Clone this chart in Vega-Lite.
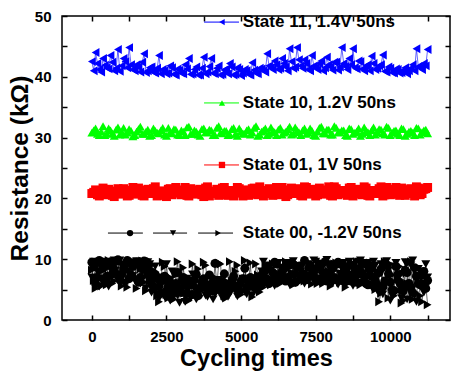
{
"$schema": "https://vega.github.io/schema/vega-lite/v6.json",
"width": 388, "height": 304, "autosize": "none",
"padding": {"left": 62, "top": 16, "right": 1, "bottom": 51},
"background": "white",
"config": {
  "view": {"stroke": "black", "strokeWidth": 1.5},
  "axis": {"domain": false, "grid": false, "zindex": 1, "labelFont": "Liberation Sans", "labelFontWeight": "bold", "labelFontSize": 15, "labelColor": "black",
    "titleFont": "Liberation Sans", "titleFontWeight": "bold", "titleFontSize": 23.5, "titleColor": "black", "tickColor": "#000000", "tickOpacity": 1, "tickWidth": 1.5, "tickSize": -5, "format": "d"}
},
"datasets": {
"pts": [
{"c":0,"a":42.5,"b":30.8,"r":20.8,"k1":9.5,"k2":7.0,"k3":8.2},
{"c":125,"a":44.0,"b":31.5,"r":21.4,"k1":6.0,"k2":9.2,"k3":5.2},
{"c":250,"a":41.2,"b":30.4,"r":20.4,"k1":9.8,"k2":5.5,"k3":7.8},
{"c":375,"a":43.0,"b":31.9,"r":21.7,"k1":8.5,"k2":9.6,"k3":9.2},
{"c":500,"a":41.5,"b":30.6,"r":20.6,"k1":7.2,"k2":6.2,"k3":5.8},
{"c":625,"a":43.5,"b":31.2,"r":21.2,"k1":9.6,"k2":8.4,"k3":7.0},
{"c":750,"a":41.0,"b":30.3,"r":20.3,"k1":8.0,"k2":9.8,"k3":6.4},
{"c":875,"a":44.5,"b":31.7,"r":21.6,"k1":9.9,"k2":6.5,"k3":9.4},
{"c":1000,"a":41.8,"b":30.9,"r":20.9,"k1":7.5,"k2":9.0,"k3":5.6},
{"c":1125,"a":42.5,"b":30.5,"r":21.3,"k1":9.2,"k2":5.8,"k3":8.0},
{"c":1250,"a":44.8,"b":31.4,"r":20.5,"k1":6.8,"k2":9.4,"k3":6.6},
{"c":1375,"a":41.2,"b":30.2,"r":21.8,"k1":8.8,"k2":7.2,"k3":9.6},
{"c":1500,"a":42.0,"b":31.0,"r":20.7,"k1":9.5,"k2":9.7,"k3":5.2},
{"c":1625,"a":40.8,"b":31.8,"r":21.1,"k1":7.0,"k2":6.0,"k3":8.4},
{"c":1750,"a":43.8,"b":30.6,"r":20.4,"k1":9.7,"k2":8.5,"k3":6.2},
{"c":1875,"a":41.0,"b":31.3,"r":21.5,"k1":8.2,"k2":9.5,"k3":7.4},
{"c":2000,"a":41.6,"b":30.4,"r":20.8,"k1":6.0,"k2":4.5,"k3":9.0},
{"c":2125,"a":40.6,"b":31.1,"r":21.9,"k1":7.5,"k2":8.8,"k3":5.0},
{"c":2250,"a":43.5,"b":30.7,"r":20.5,"k1":5.5,"k2":3.5,"k3":3.0},
{"c":2375,"a":41.2,"b":31.6,"r":21.2,"k1":6.5,"k2":6.8,"k3":9.5},
{"c":2500,"a":40.5,"b":30.3,"r":20.3,"k1":4.8,"k2":9.2,"k3":4.2},
{"c":2625,"a":41.8,"b":30.9,"r":21.6,"k1":6.2,"k2":3.2,"k3":7.0},
{"c":2750,"a":40.4,"b":31.4,"r":20.9,"k1":5.0,"k2":5.5,"k3":3.4},
{"c":2875,"a":41.3,"b":30.5,"r":21.4,"k1":7.8,"k2":4.0,"k3":9.6},
{"c":3000,"a":40.6,"b":31.2,"r":20.6,"k1":4.5,"k2":6.2,"k3":5.0},
{"c":3125,"a":42.0,"b":30.4,"r":21.8,"k1":5.8,"k2":3.0,"k3":6.2},
{"c":3250,"a":43.0,"b":31.8,"r":20.4,"k1":6.5,"k2":5.2,"k3":3.2},
{"c":3375,"a":40.5,"b":30.6,"r":21.1,"k1":4.2,"k2":7.5,"k3":9.2},
{"c":3500,"a":41.6,"b":31.0,"r":20.7,"k1":7.5,"k2":3.4,"k3":5.6},
{"c":3625,"a":40.3,"b":30.3,"r":21.5,"k1":5.2,"k2":4.8,"k3":4.0},
{"c":3750,"a":43.2,"b":31.5,"r":20.3,"k1":6.8,"k2":6.0,"k3":9.5},
{"c":3875,"a":40.8,"b":30.8,"r":21.9,"k1":4.6,"k2":3.8,"k3":6.0},
{"c":4000,"a":43.0,"b":31.2,"r":20.8,"k1":5.9,"k2":5.4,"k3":4.4},
{"c":4125,"a":40.5,"b":30.4,"r":21.2,"k1":9.3,"k2":4.2,"k3":7.0},
{"c":4250,"a":41.8,"b":31.9,"r":20.5,"k1":5.0,"k2":6.6,"k3":9.4},
{"c":4375,"a":40.4,"b":30.7,"r":21.7,"k1":6.3,"k2":3.6,"k3":4.8},
{"c":4500,"a":41.3,"b":31.1,"r":20.6,"k1":4.7,"k2":5.0,"k3":3.6},
{"c":4625,"a":42.2,"b":30.5,"r":21.3,"k1":5.8,"k2":4.4,"k3":9.6},
{"c":4750,"a":40.3,"b":31.6,"r":20.4,"k1":7.2,"k2":6.2,"k3":5.0},
{"c":4875,"a":41.5,"b":30.3,"r":21.8,"k1":5.1,"k2":3.9,"k3":9.0},
{"c":5000,"a":40.2,"b":31.0,"r":20.9,"k1":6.4,"k2":5.6,"k3":4.2},
{"c":5125,"a":41.2,"b":30.6,"r":21.1,"k1":8.5,"k2":4.6,"k3":9.8},
{"c":5250,"a":40.4,"b":31.4,"r":20.5,"k1":5.5,"k2":6.4,"k3":6.0},
{"c":5375,"a":42.3,"b":30.8,"r":21.6,"k1":6.8,"k2":4.0,"k3":3.8},
{"c":5500,"a":40.6,"b":31.9,"r":20.7,"k1":5.2,"k2":5.8,"k3":9.2},
{"c":5625,"a":41.4,"b":30.5,"r":21.9,"k1":7.0,"k2":6.6,"k3":4.6},
{"c":5750,"a":41.0,"b":31.2,"r":20.4,"k1":6.2,"k2":9.6,"k3":5.4},
{"c":5875,"a":43.8,"b":30.4,"r":21.3,"k1":8.8,"k2":6.0,"k3":7.2},
{"c":6000,"a":41.5,"b":31.7,"r":20.8,"k1":6.5,"k2":8.2,"k3":5.8},
{"c":6125,"a":42.6,"b":30.9,"r":21.5,"k1":9.5,"k2":5.6,"k3":8.0},
{"c":6250,"a":41.2,"b":31.3,"r":20.6,"k1":7.2,"k2":9.4,"k3":6.2},
{"c":6375,"a":43.0,"b":30.5,"r":21.8,"k1":8.0,"k2":6.8,"k3":7.6},
{"c":6500,"a":41.6,"b":31.0,"r":20.3,"k1":6.4,"k2":8.6,"k3":9.6},
{"c":6625,"a":44.6,"b":31.8,"r":21.2,"k1":9.0,"k2":5.8,"k3":6.6},
{"c":6750,"a":41.4,"b":30.6,"r":20.9,"k1":7.5,"k2":9.7,"k3":5.8},
{"c":6875,"a":44.8,"b":31.2,"r":21.6,"k1":8.6,"k2":6.4,"k3":9.2},
{"c":7000,"a":41.8,"b":30.4,"r":20.5,"k1":6.8,"k2":8.0,"k3":7.0},
{"c":7125,"a":42.8,"b":31.5,"r":21.9,"k1":9.8,"k2":6.0,"k3":6.4},
{"c":7250,"a":41.2,"b":30.8,"r":20.7,"k1":7.3,"k2":9.2,"k3":8.4},
{"c":7375,"a":43.5,"b":31.1,"r":21.1,"k1":8.5,"k2":7.0,"k3":5.9},
{"c":7500,"a":41.5,"b":30.3,"r":20.4,"k1":6.6,"k2":9.6,"k3":7.8},
{"c":7625,"a":42.2,"b":31.6,"r":21.7,"k1":9.2,"k2":6.2,"k3":9.0},
{"c":7750,"a":41.0,"b":30.7,"r":20.8,"k1":7.8,"k2":8.8,"k3":6.0},
{"c":7875,"a":43.2,"b":31.3,"r":21.4,"k1":6.4,"k2":9.9,"k3":7.4},
{"c":8000,"a":41.6,"b":30.5,"r":20.5,"k1":8.9,"k2":6.6,"k3":5.6},
{"c":8125,"a":42.4,"b":31.9,"r":21.9,"k1":7.0,"k2":8.4,"k3":9.2},
{"c":8250,"a":41.1,"b":30.8,"r":20.6,"k1":9.5,"k2":5.8,"k3":6.8},
{"c":8375,"a":44.8,"b":31.2,"r":21.2,"k1":6.5,"k2":9.4,"k3":7.6},
{"c":8500,"a":41.7,"b":30.4,"r":20.9,"k1":8.2,"k2":6.8,"k3":5.4},
{"c":8625,"a":43.0,"b":31.5,"r":21.7,"k1":7.4,"k2":9.6,"k3":8.6},
{"c":8750,"a":44.6,"b":30.6,"r":20.4,"k1":9.0,"k2":5.6,"k3":6.6},
{"c":8875,"a":41.3,"b":31.0,"r":21.5,"k1":6.2,"k2":8.5,"k3":9.6},
{"c":9000,"a":42.5,"b":30.3,"r":20.7,"k1":8.0,"k2":9.8,"k3":5.8},
{"c":9125,"a":41.0,"b":31.7,"r":21.9,"k1":7.2,"k2":6.0,"k3":8.0},
{"c":9250,"a":42.0,"b":30.9,"r":20.5,"k1":5.8,"k2":9.4,"k3":7.0},
{"c":9375,"a":43.4,"b":31.2,"r":21.3,"k1":8.6,"k2":5.4,"k3":9.0},
{"c":9500,"a":41.2,"b":30.5,"r":20.8,"k1":6.5,"k2":9.0,"k3":5.0},
{"c":9625,"a":41.8,"b":31.4,"r":21.6,"k1":7.8,"k2":7.5,"k3":3.0},
{"c":9750,"a":43.6,"b":30.7,"r":20.4,"k1":5.4,"k2":4.2,"k3":8.6},
{"c":9875,"a":40.8,"b":31.8,"r":21.8,"k1":9.0,"k2":9.7,"k3":6.4},
{"c":10000,"a":41.4,"b":30.4,"r":20.6,"k1":6.2,"k2":3.2,"k3":9.2},
{"c":10125,"a":40.6,"b":31.1,"r":21.2,"k1":4.8,"k2":8.8,"k3":4.0},
{"c":10250,"a":41.2,"b":30.6,"r":20.9,"k1":7.5,"k2":6.0,"k3":6.8},
{"c":10375,"a":40.7,"b":31.5,"r":21.7,"k1":5.6,"k2":3.6,"k3":2.8},
{"c":10500,"a":41.5,"b":30.3,"r":20.5,"k1":8.2,"k2":9.5,"k3":5.2},
{"c":10625,"a":41.0,"b":31.0,"r":21.4,"k1":6.0,"k2":5.0,"k3":9.4},
{"c":10750,"a":42.0,"b":30.8,"r":20.8,"k1":4.5,"k2":9.8,"k3":3.4},
{"c":10875,"a":44.6,"b":31.6,"r":21.9,"k1":7.2,"k2":3.0,"k3":7.6},
{"c":11000,"a":41.5,"b":30.5,"r":20.6,"k1":5.8,"k2":8.0,"k3":4.0},
{"c":11125,"a":42.2,"b":31.2,"r":21.5,"k1":8.0,"k2":4.5,"k3":6.2},
{"c":11250,"a":44.5,"b":30.7,"r":21.8,"k1":6.5,"k2":7.0,"k3":2.5},
{"c":63,"a":41.0,"b":31.2,"r":21.0,"k1":8.8,"k2":9.6,"k3":6.5},
{"c":188,"a":42.2,"b":30.6,"r":20.6,"k1":7.0,"k2":8.0,"k3":9.0},
{"c":313,"a":40.8,"b":31.0,"r":21.3,"k1":9.4,"k2":6.8,"k3":5.6},
{"c":438,"a":41.9,"b":30.4,"r":20.8,"k1":6.4,"k2":9.0,"k3":8.4},
{"c":563,"a":41.3,"b":31.5,"r":21.5,"k1":9.0,"k2":5.5,"k3":9.8},
{"c":688,"a":42.4,"b":30.7,"r":20.5,"k1":7.6,"k2":9.3,"k3":6.0},
{"c":813,"a":41.4,"b":31.3,"r":21.1,"k1":9.7,"k2":7.5,"k3":8.6},
{"c":938,"a":40.9,"b":30.5,"r":20.7,"k1":6.6,"k2":9.8,"k3":7.2},
{"c":1063,"a":43.0,"b":31.6,"r":21.6,"k1":8.4,"k2":6.2,"k3":9.3},
{"c":1188,"a":41.5,"b":30.8,"r":20.4,"k1":9.8,"k2":8.0,"k3":5.4},
{"c":1313,"a":42.0,"b":31.1,"r":21.2,"k1":7.4,"k2":9.5,"k3":7.8},
{"c":1438,"a":41.0,"b":30.4,"r":20.9,"k1":9.3,"k2":6.5,"k3":9.1},
{"c":1563,"a":41.6,"b":31.4,"r":21.7,"k1":6.2,"k2":9.0,"k3":6.8},
{"c":1688,"a":42.4,"b":30.6,"r":20.5,"k1":8.6,"k2":7.8,"k3":9.7},
{"c":1813,"a":40.7,"b":31.0,"r":21.3,"k1":9.6,"k2":5.2,"k3":4.8},
{"c":1938,"a":41.5,"b":30.3,"r":20.8,"k1":7.2,"k2":9.2,"k3":6.4},
{"c":2063,"a":40.8,"b":31.5,"r":21.6,"k1":5.4,"k2":6.4,"k3":8.2},
{"c":2188,"a":41.4,"b":30.8,"r":20.4,"k1":6.8,"k2":4.2,"k3":4.0},
{"c":2313,"a":40.5,"b":31.2,"r":21.2,"k1":4.4,"k2":7.0,"k3":6.6},
{"c":2438,"a":41.0,"b":30.5,"r":20.7,"k1":7.2,"k2":3.8,"k3":8.8},
{"c":2563,"a":40.6,"b":31.6,"r":21.5,"k1":5.6,"k2":6.0,"k3":3.6},
{"c":2688,"a":41.5,"b":30.7,"r":20.6,"k1":4.2,"k2":8.0,"k3":5.8},
{"c":2813,"a":40.3,"b":31.3,"r":21.8,"k1":6.0,"k2":4.6,"k3":7.4},
{"c":2938,"a":41.1,"b":30.4,"r":20.9,"k1":5.2,"k2":2.8,"k3":4.4},
{"c":3063,"a":40.5,"b":31.0,"r":21.3,"k1":7.0,"k2":5.6,"k3":8.6},
{"c":3188,"a":41.3,"b":31.7,"r":20.5,"k1":4.4,"k2":6.8,"k3":3.4},
{"c":3313,"a":40.4,"b":30.6,"r":21.6,"k1":5.8,"k2":3.6,"k3":6.4},
{"c":3438,"a":41.2,"b":31.2,"r":20.8,"k1":6.6,"k2":5.2,"k3":4.2},
{"c":3563,"a":40.3,"b":30.5,"r":21.4,"k1":4.0,"k2":4.4,"k3":8.4},
{"c":3688,"a":41.4,"b":31.4,"r":20.6,"k1":6.2,"k2":6.6,"k3":5.2},
{"c":3813,"a":40.5,"b":30.9,"r":21.7,"k1":5.4,"k2":4.0,"k3":9.0},
{"c":3938,"a":41.7,"b":31.3,"r":20.4,"k1":7.4,"k2":5.8,"k3":4.6},
{"c":4063,"a":40.6,"b":30.4,"r":21.0,"k1":4.8,"k2":3.4,"k3":6.8},
{"c":4188,"a":41.4,"b":31.6,"r":21.5,"k1":6.0,"k2":6.0,"k3":5.4},
{"c":4313,"a":40.3,"b":30.8,"r":20.7,"k1":5.2,"k2":4.6,"k3":9.2},
{"c":4438,"a":41.1,"b":31.1,"r":21.8,"k1":7.6,"k2":5.4,"k3":4.0},
{"c":4563,"a":40.5,"b":30.4,"r":20.5,"k1":4.6,"k2":3.8,"k3":6.2},
{"c":4688,"a":41.6,"b":31.4,"r":21.2,"k1":6.4,"k2":6.4,"k3":5.0},
{"c":4813,"a":40.4,"b":30.6,"r":20.9,"k1":5.6,"k2":4.8,"k3":8.0},
{"c":4938,"a":41.2,"b":31.5,"r":21.6,"k1":4.8,"k2":5.2,"k3":4.4},
{"c":5063,"a":40.6,"b":30.7,"r":20.4,"k1":6.8,"k2":6.8,"k3":6.6},
{"c":5188,"a":41.0,"b":31.2,"r":21.4,"k1":5.4,"k2":4.2,"k3":5.2},
{"c":5313,"a":40.3,"b":30.5,"r":20.8,"k1":7.0,"k2":5.8,"k3":9.4},
{"c":5438,"a":41.1,"b":31.6,"r":21.7,"k1":5.8,"k2":4.8,"k3":5.6},
{"c":5563,"a":40.5,"b":30.3,"r":20.6,"k1":6.6,"k2":6.2,"k3":7.4},
{"c":5688,"a":41.3,"b":31.0,"r":21.3,"k1":7.4,"k2":8.0,"k3":6.0},
{"c":5813,"a":40.8,"b":31.5,"r":20.9,"k1":8.2,"k2":6.4,"k3":8.8},
{"c":5938,"a":41.8,"b":30.6,"r":21.6,"k1":6.0,"k2":9.0,"k3":6.6},
{"c":6063,"a":41.2,"b":31.1,"r":20.5,"k1":7.8,"k2":7.2,"k3":9.2},
{"c":6188,"a":42.0,"b":30.4,"r":21.8,"k1":9.2,"k2":6.0,"k3":7.0},
{"c":6313,"a":41.4,"b":31.6,"r":20.7,"k1":6.8,"k2":8.6,"k3":6.0},
{"c":6438,"a":42.2,"b":30.8,"r":21.4,"k1":8.4,"k2":7.0,"k3":8.2},
{"c":6563,"a":41.0,"b":31.3,"r":20.6,"k1":7.0,"k2":9.4,"k3":6.4},
{"c":6688,"a":42.5,"b":30.5,"r":21.7,"k1":9.4,"k2":6.2,"k3":7.8},
{"c":6813,"a":41.6,"b":31.7,"r":20.8,"k1":6.2,"k2":8.8,"k3":9.4},
{"c":6938,"a":42.8,"b":30.9,"r":21.3,"k1":8.8,"k2":7.4,"k3":6.2},
{"c":7063,"a":41.4,"b":31.2,"r":20.4,"k1":7.6,"k2":9.0,"k3":8.0},
{"c":7188,"a":42.2,"b":30.6,"r":21.8,"k1":6.6,"k2":6.6,"k3":9.6},
{"c":7313,"a":41.0,"b":31.5,"r":20.9,"k1":9.0,"k2":8.2,"k3":6.8},
{"c":7438,"a":41.8,"b":30.4,"r":21.5,"k1":7.2,"k2":9.8,"k3":7.6},
{"c":7563,"a":41.2,"b":31.0,"r":20.6,"k1":8.6,"k2":6.8,"k3":6.0},
{"c":7688,"a":42.6,"b":31.8,"r":21.2,"k1":6.8,"k2":8.4,"k3":9.2},
{"c":7813,"a":41.5,"b":30.7,"r":20.7,"k1":9.6,"k2":7.2,"k3":6.6},
{"c":7938,"a":42.0,"b":31.3,"r":21.9,"k1":7.4,"k2":9.2,"k3":8.0},
{"c":8063,"a":41.1,"b":30.5,"r":20.4,"k1":8.4,"k2":6.0,"k3":7.2},
{"c":8188,"a":42.4,"b":31.6,"r":21.6,"k1":6.6,"k2":8.8,"k3":9.4},
{"c":8313,"a":41.6,"b":30.9,"r":20.8,"k1":9.2,"k2":7.6,"k3":6.2},
{"c":8438,"a":42.2,"b":31.2,"r":21.3,"k1":7.0,"k2":9.4,"k3":8.4},
{"c":8563,"a":41.2,"b":30.3,"r":20.5,"k1":8.8,"k2":6.4,"k3":6.0},
{"c":8688,"a":42.0,"b":31.4,"r":21.8,"k1":6.4,"k2":9.0,"k3":9.0},
{"c":8813,"a":41.5,"b":30.8,"r":20.9,"k1":8.0,"k2":7.4,"k3":7.0},
{"c":8938,"a":42.6,"b":31.5,"r":21.4,"k1":7.6,"k2":9.6,"k3":6.4},
{"c":9063,"a":41.3,"b":30.6,"r":20.6,"k1":9.4,"k2":6.2,"k3":8.8},
{"c":9188,"a":41.8,"b":31.1,"r":21.7,"k1":6.0,"k2":8.6,"k3":7.4},
{"c":9313,"a":41.0,"b":30.4,"r":20.4,"k1":8.2,"k2":7.0,"k3":9.4},
{"c":9438,"a":42.2,"b":31.7,"r":21.2,"k1":7.0,"k2":9.6,"k3":5.8},
{"c":9563,"a":41.4,"b":30.9,"r":20.8,"k1":5.8,"k2":4.8,"k3":8.0},
{"c":9688,"a":42.0,"b":31.3,"r":21.9,"k1":8.4,"k2":9.2,"k3":4.4},
{"c":9813,"a":40.9,"b":30.5,"r":20.6,"k1":6.4,"k2":5.6,"k3":9.6},
{"c":9938,"a":41.6,"b":31.6,"r":21.5,"k1":7.6,"k2":8.2,"k3":3.6},
{"c":10063,"a":40.7,"b":30.8,"r":20.7,"k1":5.0,"k2":4.0,"k3":7.4},
{"c":10188,"a":41.3,"b":31.2,"r":21.8,"k1":8.8,"k2":9.4,"k3":5.0},
{"c":10313,"a":40.6,"b":30.4,"r":20.5,"k1":6.2,"k2":4.6,"k3":8.8},
{"c":10438,"a":41.1,"b":31.4,"r":21.4,"k1":4.8,"k2":7.6,"k3":3.2},
{"c":10563,"a":40.5,"b":30.6,"r":20.9,"k1":7.8,"k2":3.4,"k3":6.0},
{"c":10688,"a":41.4,"b":31.1,"r":21.6,"k1":5.4,"k2":9.0,"k3":9.6},
{"c":10813,"a":41.0,"b":30.4,"r":20.4,"k1":8.6,"k2":4.0,"k3":4.6},
{"c":10938,"a":41.7,"b":31.5,"r":21.7,"k1":6.0,"k2":8.4,"k3":7.0},
{"c":11063,"a":41.2,"b":30.9,"r":20.8,"k1":7.4,"k2":5.4,"k3":3.0},
{"c":11188,"a":41.8,"b":31.3,"r":21.6,"k1":5.2,"k2":9.2,"k3":5.8}
],
"leg": [
{"s":"a","x1":3760,"x2":4930,"xm":4360,"y":49.0},
{"s":"b","x1":3760,"x2":4930,"xm":4360,"y":35.7},
{"s":"r","x1":3760,"x2":4930,"xm":4360,"y":25.5},
{"s":"k1","x1":540,"x2":1710,"xm":1280,"y":14.3},
{"s":"k2","x1":2050,"x2":3190,"xm":2720,"y":14.3},
{"s":"k3","x1":3560,"x2":4730,"xm":4230,"y":14.3}
],
"lab": [
{"t":"State 11, 1.4V 50ns","x":5060,"y":49.0},
{"t":"State 10, 1.2V 50ns","x":5060,"y":35.7},
{"t":"State 01, 1V 50ns","x":5060,"y":25.5},
{"t":"State 00, -1.2V 50ns","x":5060,"y":14.3}
]
},
"layer": [
{
  "data": {"name": "pts"},
  "transform": [{"fold": ["a","b","r","k1","k2","k3"], "as": ["s","v"]}],
  "mark": {"type": "line", "strokeWidth": 0.6},
  "encoding": {
    "x": {"field": "c", "type": "quantitative", "scale": {"domain": [-1000, 12000], "nice": false, "zero": false},
      "axis": {"orient": "bottom", "title": "Cycling times", "values": [0,1250,2500,3750,5000,6250,7500,8750,10000,11250],
        "labelExpr": "datum.value % 2500 === 0 ? datum.label : ''",
        "labelPadding": 14, "titlePadding": 2}},
    "y": {"field": "v", "type": "quantitative", "scale": {"domain": [0, 50], "nice": false},
      "axis": {"orient": "left", "title": "Resistance (kΩ)", "titleFontSize": 24.5, "values": [0,5,10,15,20,25,30,35,40,45,50],
        "labelExpr": "datum.value % 10 === 0 ? datum.label : ''",
        "labelPadding": 16, "titlePadding": 2}},
    "color": {"field": "s", "type": "nominal", "legend": null,
      "scale": {"domain": ["a","b","r","k1","k2","k3"], "range": ["#0000ff","#00ff00","#ff0000","#000000","#000000","#000000"]}},
    "order": {"field": "c", "type": "quantitative"}
  }
},
{
  "data": {"name": "pts"},
  "transform": [{"fold": ["a","b","r","k1","k2","k3"], "as": ["s","v"]}],
  "mark": {"type": "point", "filled": true, "opacity": 1, "size": 80},
  "encoding": {
    "x": {"field": "c", "type": "quantitative",
      "axis": {"orient": "top", "title": null, "labels": false, "values": [0,1250,2500,3750,5000,6250,7500,8750,10000,11250]}},
    "y": {"field": "v", "type": "quantitative",
      "axis": {"orient": "right", "title": null, "labels": false, "values": [0,5,10,15,20,25,30,35,40,45,50]}},
    "color": {"field": "s", "type": "nominal", "legend": null},
    "shape": {"field": "s", "type": "nominal", "legend": null,
      "scale": {"domain": ["a","b","r","k1","k2","k3"], "range": ["triangle-left","triangle-up","square","circle","triangle-down","triangle-right"]}}
  }
},
{
  "data": {"name": "leg"},
  "mark": {"type": "rule", "strokeWidth": 1},
  "encoding": {
    "x": {"field": "x1", "type": "quantitative", "axis": null},
    "x2": {"field": "x2"},
    "y": {"field": "y", "type": "quantitative", "axis": null},
    "color": {"field": "s", "type": "nominal", "legend": null}
  }
},
{
  "data": {"name": "leg"},
  "mark": {"type": "point", "filled": true, "opacity": 1, "size": 40},
  "encoding": {
    "x": {"field": "xm", "type": "quantitative", "axis": null},
    "y": {"field": "y", "type": "quantitative", "axis": null},
    "color": {"field": "s", "type": "nominal", "legend": null},
    "shape": {"field": "s", "type": "nominal", "legend": null}
  }
},
{
  "data": {"name": "lab"},
  "mark": {"type": "text", "align": "left", "baseline": "middle", "font": "Liberation Sans", "fontWeight": "bold", "fontSize": 17, "color": "black"},
  "encoding": {
    "x": {"field": "x", "type": "quantitative", "axis": null},
    "y": {"field": "y", "type": "quantitative", "axis": null},
    "text": {"field": "t"}
  }
}
],
"resolve": {"axis": {"x": "independent", "y": "independent"}}
}
